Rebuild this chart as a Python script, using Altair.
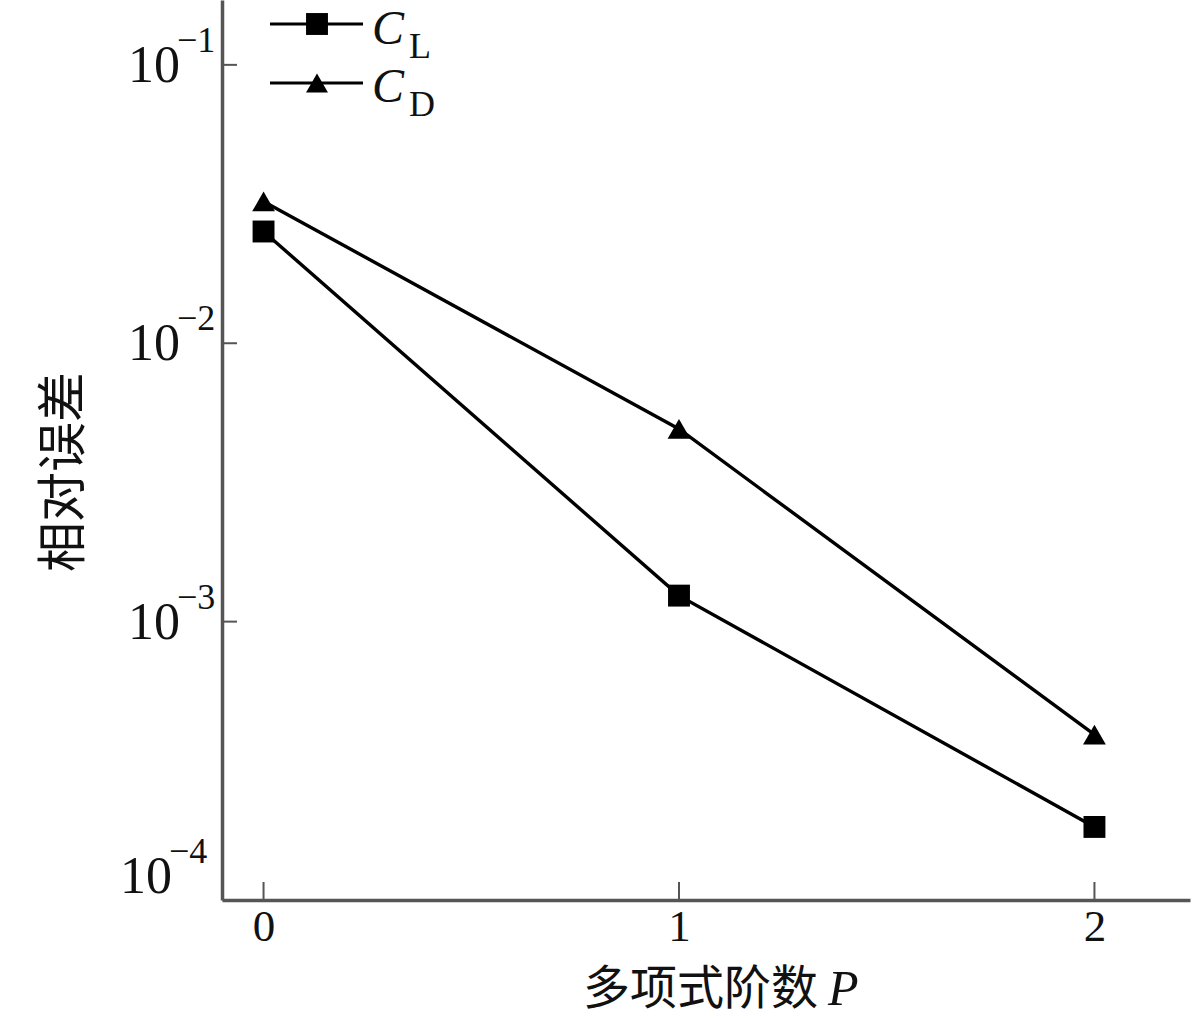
import altair as alt
import pandas as pd

# ---- data ----
orders = [0, 1, 2]
cl_err = [0.0252, 0.00124, 0.000183]
cd_err = [0.0323, 0.00492, 0.000393]
series_names = ["CL", "CD"]

y_ticks = [0.1, 0.01, 0.001]
y_exps = ["\u22121", "\u22122", "\u22123"]
y_bottom = [0.0001]
y_bottom_exp = ["\u22124"]
x_ticks = [0, 1, 2]

x_domain = [-0.1, 2.23]
y_domain = [1e-4, 0.171]

df = pd.DataFrame({
    "P": orders * 2,
    "err": cl_err + cd_err,
    "series": [series_names[0]] * 3 + [series_names[1]] * 3,
})
ylab = pd.DataFrame({"v": y_ticks, "exp": y_exps, "base": ["10"] * 3})
ylab4 = pd.DataFrame({"v": y_bottom, "exp": y_bottom_exp, "base": ["10"]})
xt = pd.DataFrame({"P": x_ticks})
yt = pd.DataFrame({"v": y_ticks})

SERIF = "Liberation Serif"
CJK = "Noto Sans CJK SC"
AX = "#555555"

xs = alt.Scale(domain=x_domain, nice=False, zero=False)
ys = alt.Scale(type="log", domain=y_domain, nice=False)

x_axis = alt.Axis(title=None, values=x_ticks, ticks=False, grid=False,
                  labelFont=SERIF, labelFontSize=45, labelColor="#111",
                  labelPadding=4, domainColor=AX, domainWidth=3.5, format="d")
y_axis = alt.Axis(title=None, labels=False, ticks=False, grid=False,
                  domainColor=AX, domainWidth=3.5)

base = alt.Chart(df)

lines = base.mark_line(color="black", strokeWidth=3.4).encode(
    x=alt.X("P:Q", scale=xs, axis=x_axis),
    y=alt.Y("err:Q", scale=ys, axis=y_axis),
    detail="series:N",
)
points = base.mark_point(filled=True, color="black", opacity=1).encode(
    x=alt.X("P:Q", scale=xs, axis=x_axis),
    y=alt.Y("err:Q", scale=ys, axis=y_axis),
    shape=alt.Shape("series:N", scale=alt.Scale(domain=series_names,
                    range=["square", "triangle-up"]), legend=None),
    size=alt.Size("series:N", scale=alt.Scale(domain=series_names, range=[480, 520]), legend=None),
)

# inward ticks
xticks = alt.Chart(xt).mark_rule(color=AX, strokeWidth=2).encode(
    x=alt.X("P:Q", scale=xs, axis=x_axis), y=alt.value(900), y2=alt.value(882))
yticks = alt.Chart(yt).mark_rule(color=AX, strokeWidth=2).encode(
    y=alt.Y("v:Q", scale=ys, axis=y_axis), x=alt.value(0), x2=alt.value(15))

# y tick labels 10^n
ybase = alt.Chart(ylab).mark_text(font=SERIF, fontSize=52, align="right",
                                  baseline="middle", dy=1, color="#111").encode(
    y=alt.Y("v:Q", scale=ys, axis=y_axis), x=alt.value(-42), text="base:N")
yexp = alt.Chart(ylab).mark_text(font=SERIF, fontSize=36, align="left",
                                 baseline="middle", dy=-24, color="#111").encode(
    y=alt.Y("v:Q", scale=ys, axis=y_axis), x=alt.value(-45), text="exp:N")
ybase4 = alt.Chart(ylab4).mark_text(font=SERIF, fontSize=52, align="right",
                                    baseline="middle", dy=-23, color="#111").encode(
    y=alt.Y("v:Q", scale=ys, axis=y_axis), x=alt.value(-50), text="base:N")
yexp4 = alt.Chart(ylab4).mark_text(font=SERIF, fontSize=36, align="left",
                                   baseline="middle", dy=-48, color="#111").encode(
    y=alt.Y("v:Q", scale=ys, axis=y_axis), x=alt.value(-53), text="exp:N")

# axis titles
ytitle = alt.Chart(pd.DataFrame({"t": ["相对误差"]})).mark_text(
    font=CJK, fontSize=50, angle=270, align="center", baseline="middle", color="#111"
).encode(x=alt.value(-157), y=alt.value(472), text="t:N")
xtitle = alt.Chart(pd.DataFrame({"t": ["多项式阶数"]})).mark_text(
    font=CJK, fontSize=47, align="right", baseline="middle", color="#111"
).encode(x=alt.value(596), y=alt.value(90 + 900), text="t:N")
xtitleP = alt.Chart(pd.DataFrame({"t": ["P"]})).mark_text(
    font=SERIF, fontSize=50, fontStyle="italic", align="left", baseline="middle", color="#111"
).encode(x=alt.value(606), y=alt.value(90 + 900), text="t:N")

# custom legend
leg = pd.DataFrame({"series": series_names, "sub": ["L", "D"], "c": ["C", "C"]})
leg_cl = alt.Chart(leg.iloc[[0]])
leg_cd = alt.Chart(leg.iloc[[1]])
legend_layers = []
for ch, yy, shp, c_base, sub_base in [(leg_cl, 24, "square", 44, 58), (leg_cd, 83, "triangle-up", 102, 116)]:
    legend_layers.append(ch.mark_rule(color="black", strokeWidth=3).encode(
        x=alt.value(48), x2=alt.value(141), y=alt.value(yy)))
    legend_layers.append(ch.mark_point(filled=True, color="black", opacity=1,
                                       shape=shp, size=480).encode(
        x=alt.value(95), y=alt.value(yy)))
    legend_layers.append(ch.mark_text(font=SERIF, fontSize=48, fontStyle="italic",
                                      align="left", baseline="alphabetic", color="#111").encode(
        x=alt.value(150), y=alt.value(c_base), text="c:N"))
    legend_layers.append(ch.mark_text(font=SERIF, fontSize=36, align="left",
                                      baseline="alphabetic", color="#111").encode(
        x=alt.value(187), y=alt.value(sub_base), text="sub:N"))

chart = alt.layer(
    lines, points, xticks, yticks, ybase, yexp, ybase4, yexp4,
    ytitle, xtitle, xtitleP, *legend_layers
).properties(
    width=968, height=900,
    padding={"left": 222, "top": 0, "right": 10, "bottom": 118},
    autosize=alt.AutoSizeParams(type="none"),
    background="white",
).configure_view(stroke=None)

chart.save("out.html", embed_options={"renderer": "svg", "actions": False})
